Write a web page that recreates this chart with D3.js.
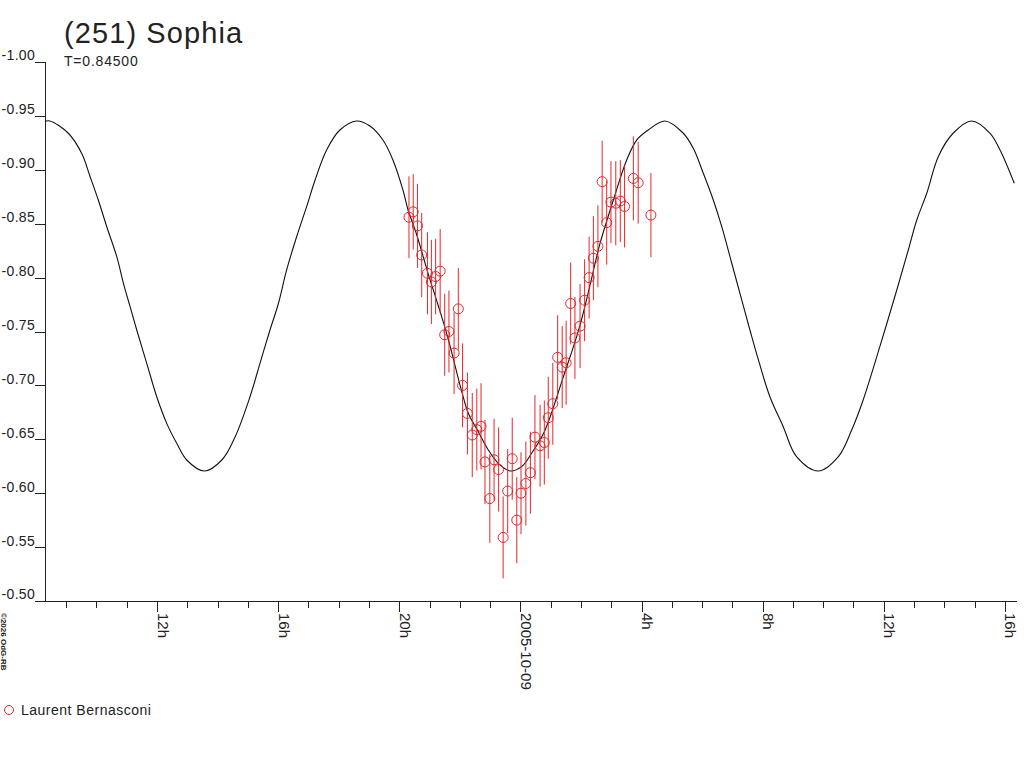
<!DOCTYPE html>
<html>
<head>
<meta charset="utf-8">
<script src="https://cdn.jsdelivr.net/npm/d3@7"></script>
<style>
  body { margin: 0; background: #fff; }
  svg { display: block; }
  text { font-family: 'Liberation Sans', Arial, sans-serif; fill: #222; }
</style>
</head>
<body>
<svg id="chart" width="1024" height="768"></svg>
<script>
// Observations (hours from 2005-10-09 0h, relative magnitude, error)
const obsHours = [-3.68, -3.54, -3.40, -3.26, -3.07, -2.94, -2.80, -2.65, -2.50, -2.36,
    -2.19, -2.05, -1.91, -1.75, -1.59, -1.44, -1.30, -1.17, -1.01, -0.87,
    -0.72, -0.57, -0.42, -0.27, -0.12, 0.02, 0.18, 0.33, 0.48, 0.65,
    0.79, 0.92, 1.07, 1.23, 1.38, 1.51, 1.66, 1.80, 1.97, 2.12,
    2.27, 2.41, 2.56, 2.70, 2.85, 2.99, 3.15, 3.30, 3.44, 3.73,
    3.89, 4.31];
const obsMag = [-0.856, -0.861, -0.848, -0.821, -0.804, -0.796, -0.801, -0.806, -0.747, -0.750,
    -0.730, -0.771, -0.700, -0.674, -0.654, -0.659, -0.662, -0.629, -0.595, -0.631,
    -0.622, -0.559, -0.602, -0.632, -0.575, -0.600, -0.609, -0.619, -0.652, -0.644,
    -0.647, -0.670, -0.683, -0.726, -0.717, -0.721, -0.776, -0.744, -0.755, -0.779,
    -0.800, -0.818, -0.829, -0.889, -0.851, -0.870, -0.869, -0.871, -0.866, -0.892,
    -0.888, -0.858];
const obsErr = [0.038, 0.035, 0.039, 0.039, 0.038, 0.039, 0.035, 0.039, 0.038, 0.038,
    0.038, 0.038, 0.039, 0.038, 0.039, 0.038, 0.040, 0.039, 0.041, 0.038,
    0.039, 0.038, 0.039, 0.038, 0.040, 0.038, 0.039, 0.038, 0.039, 0.038,
    0.039, 0.038, 0.038, 0.039, 0.038, 0.039, 0.038, 0.038, 0.039, 0.038,
    0.038, 0.039, 0.038, 0.038, 0.039, 0.038, 0.039, 0.038, 0.038, 0.039,
    0.038, 0.039];

// Fitted lightcurve
const fitHours = [-15.70, -15.54, -14.93, -14.49, -14.21, -13.94, -13.66, -13.33, -13.11, -12.89,
    -12.67, -12.34, -12.01, -11.68, -11.35, -11.02, -10.44, -9.86, -9.42, -8.93,
    -8.60, -8.27, -7.99, -7.72, -7.39, -7.06, -6.78, -6.40, -5.96, -5.41,
    -4.97, -4.54, -4.21, -3.88, -3.71, -3.44, -3.05, -2.72, -2.39, -1.95,
    -1.72, -1.39, -1.06, -0.73, -0.34, 0.04, 0.37, 0.79, 1.42, 1.97,
    2.52, 2.63, 3.07, 3.51, 3.84, 4.22, 4.77, 5.38, 5.71, 6.04,
    6.37, 6.65, 6.98, 7.25, 7.58, 7.86, 8.24, 8.68, 9.12, 9.84,
    10.50, 10.94, 11.32, 11.87, 12.43, 12.81, 13.09, 13.42, 13.80, 14.29,
    14.90, 15.51, 15.84, 16.31];
const fitMag = [-0.9450, -0.9453, -0.9339, -0.9153, -0.8936, -0.8720, -0.8472, -0.8194, -0.7947, -0.7730,
    -0.7514, -0.7205, -0.6895, -0.6648, -0.6463, -0.6308, -0.6206, -0.6308, -0.6524, -0.6895,
    -0.7205, -0.7514, -0.7762, -0.8071, -0.8379, -0.8658, -0.8905, -0.9184, -0.9369, -0.9453,
    -0.9406, -0.9276, -0.9091, -0.8813, -0.8627, -0.8411, -0.8040, -0.7746, -0.7437, -0.6957,
    -0.6741, -0.6570, -0.6401, -0.6277, -0.6206, -0.6246, -0.6370, -0.6570, -0.7081, -0.7560,
    -0.8194, -0.8318, -0.8720, -0.9091, -0.9276, -0.9369, -0.9453, -0.9339, -0.9199, -0.8968,
    -0.8720, -0.8472, -0.8133, -0.7854, -0.7514, -0.7236, -0.6895, -0.6617, -0.6339, -0.6206,
    -0.6339, -0.6586, -0.6865, -0.7359, -0.7885, -0.8256, -0.8534, -0.8782, -0.9122, -0.9339,
    -0.9453, -0.9339, -0.9184, -0.8875];

const yTicks = [-1.00, -0.95, -0.90, -0.85, -0.80, -0.75, -0.70, -0.65, -0.60, -0.55, -0.50];
const yTickLabels = ['-1.00', '-0.95', '-0.90', '-0.85', '-0.80', '-0.75', '-0.70', '-0.65', '-0.60', '-0.55', '-0.50'];
const xMajorTicks = [-12, -8, -4, 0, 4, 8, 12, 16];
const xMajorLabels = ['12h', '16h', '20h', '2005-10-09', '4h', '8h', '12h', '16h'];
const xMinorTicks = d3.range(-15, 17);

const title = '(251) Sophia';
const subtitle = 'T=0.84500';
const observer = 'Laurent Bernasconi';
const credit = '\u00a92026 OdG-RB';

const red = '#e8262b';
const ink = '#222';

const svg = d3.select('#chart');

const x = d3.scaleLinear().domain([-15.70, 16.40]).range([45, 1017]);
const y = d3.scaleLinear().domain([-1.00, -0.50]).range([62, 601]);

// Title block
svg.append('text')
    .attr('x', 64).attr('y', 43)
    .attr('font-size', 29).attr('letter-spacing', 1.1)
    .text(title);
svg.append('text')
    .attr('x', 64).attr('y', 66)
    .attr('font-size', 14).attr('letter-spacing', 0.8)
    .text(subtitle);

// Y axis
const yAxis = svg.append('g')
    .attr('transform', `translate(${x.range()[0]},0)`)
    .call(d3.axisLeft(y)
        .tickValues(yTicks)
        .tickSize(10)
        .tickPadding(0)
        .tickFormat((d, i) => yTickLabels[i]));
yAxis.select('.domain').remove();
yAxis.selectAll('.tick line').attr('stroke', ink).attr('shape-rendering', 'crispEdges');
yAxis.selectAll('.tick text')
    .attr('x', -10).attr('dy', '-0.15em')
    .attr('text-anchor', 'end')
    .attr('font-size', 14).attr('letter-spacing', 0.3).attr('font-family', null)
    .attr('fill', ink);
svg.append('line')
    .attr('x1', x.range()[0]).attr('x2', x.range()[0])
    .attr('y1', y(-1.00)).attr('y2', y(-0.50))
    .attr('stroke', ink).attr('shape-rendering', 'crispEdges');

// X axis: hourly minor ticks, labelled every 4h
const xMinor = svg.append('g')
    .attr('transform', `translate(0,${y.range()[1]})`)
    .call(d3.axisBottom(x).tickValues(xMinorTicks).tickSize(7).tickFormat(''));
xMinor.select('.domain').remove();
xMinor.selectAll('.tick line').attr('stroke', ink).attr('shape-rendering', 'crispEdges');

const xMajor = svg.append('g')
    .attr('transform', `translate(0,${y.range()[1]})`)
    .call(d3.axisBottom(x).tickValues(xMajorTicks).tickSize(11)
        .tickFormat((d, i) => xMajorLabels[i]));
xMajor.select('.domain').remove();
xMajor.selectAll('.tick line').attr('stroke', ink).attr('shape-rendering', 'crispEdges');
xMajor.selectAll('.tick text')
    .attr('y', 0).attr('dy', null)
    .attr('transform', 'translate(0,12) rotate(90)')
    .attr('text-anchor', 'start')
    .attr('font-size', 15).attr('font-family', null)
    .attr('fill', ink);
svg.append('line')
    .attr('x1', 35).attr('x2', x.range()[1])
    .attr('y1', y.range()[1]).attr('y2', y.range()[1])
    .attr('stroke', ink).attr('shape-rendering', 'crispEdges');

// Fitted curve
const fitData = fitHours.map((h, i) => [h, fitMag[i]]);
svg.append('path')
    .datum(fitData)
    .attr('fill', 'none')
    .attr('stroke', '#111')
    .attr('stroke-width', 1.1)
    .attr('d', d3.line()
        .x(d => x(d[0]))
        .y(d => y(d[1]))
        .curve(d3.curveCatmullRom.alpha(0.5)));

// Observations with error bars
const obs = obsHours.map((h, i) => ({ h, m: obsMag[i], e: obsErr[i] }));
const obsGroup = svg.append('g');
obsGroup.selectAll('line.err')
    .data(obs)
    .join('line')
    .attr('class', 'err')
    .attr('x1', d => x(d.h)).attr('x2', d => x(d.h))
    .attr('y1', d => y(d.m - d.e)).attr('y2', d => y(d.m + d.e))
    .attr('stroke', red).attr('stroke-width', 1);
obsGroup.selectAll('circle')
    .data(obs)
    .join('circle')
    .attr('cx', d => x(d.h)).attr('cy', d => y(d.m))
    .attr('r', 5)
    .attr('fill', 'none')
    .attr('stroke', red).attr('stroke-width', 1);

// Legend
svg.append('circle')
    .attr('cx', 9).attr('cy', 710).attr('r', 4.5)
    .attr('fill', 'none').attr('stroke', red);
svg.append('text')
    .attr('x', 21).attr('y', 715)
    .attr('font-size', 14).attr('letter-spacing', 0.5)
    .text(observer);

// Credit, rotated along the left edge
svg.append('text')
    .attr('transform', 'translate(1,613) rotate(90)')
    .attr('font-size', 8).attr('font-weight', 'bold')
    .text(credit);
</script>
</body>
</html>
